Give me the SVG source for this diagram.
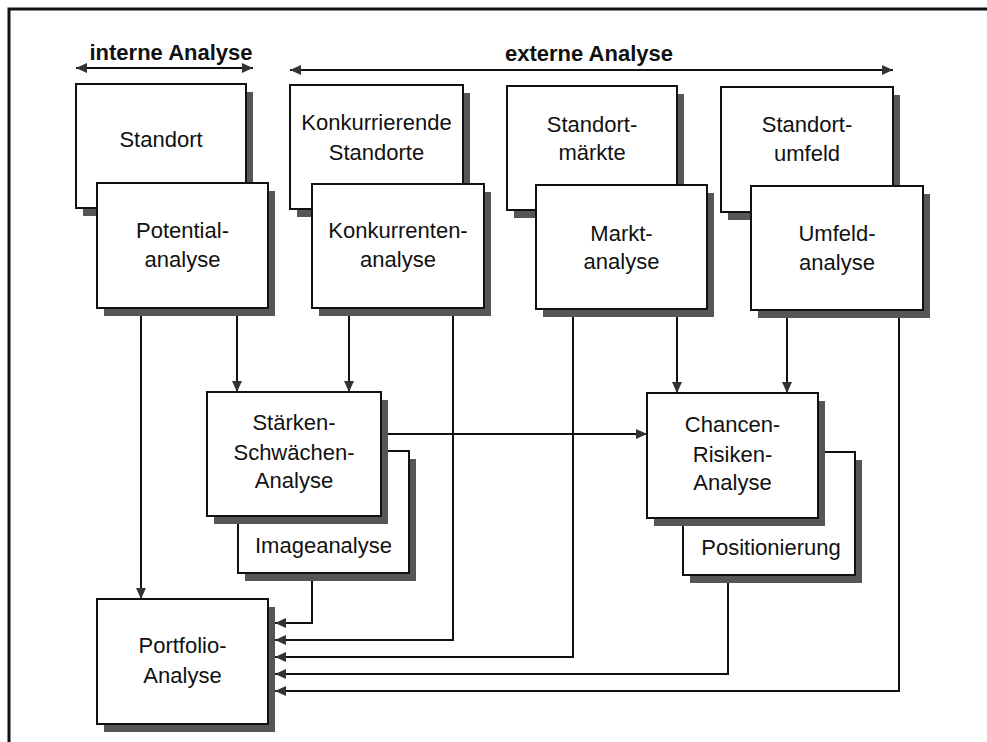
<svg xmlns="http://www.w3.org/2000/svg" width="987" height="742" viewBox="0 0 987 742">
  <style>
    .frame { fill: none; stroke: #111; stroke-width: 3; }
    .shadow { fill: #565656; }
    .box { fill: #fff; stroke: #111; stroke-width: 2; }
    .t { font-family: "Liberation Sans", Arial, sans-serif; font-size: 22px; fill: #111; text-anchor: middle; }
    .h { font-family: "Liberation Sans", Arial, sans-serif; font-size: 22px; font-weight: bold; fill: #111; text-anchor: middle; }
    .con { fill: none; stroke: #111; stroke-width: 2; marker-end: url(#arrow); }
    .span { fill: none; stroke: #111; stroke-width: 2; marker-start: url(#arrow); marker-end: url(#arrow); }
  </style>
  <defs>
    <marker id="arrow" markerUnits="userSpaceOnUse" markerWidth="11" markerHeight="10" refX="11" refY="5" orient="auto-start-reverse">
      <path d="M0,0 L11,5 L0,10 z" fill="#333"/>
    </marker>
  </defs>

  <rect width="987" height="742" fill="#fff"/>
  <path class="frame" d="M9,746 V9 H992"/>

  <!-- headings with their range arrows -->
  <g id="interne">
    <text class="h" x="171" y="60">interne Analyse</text>
    <path class="span" d="M76,68 H253"/>
  </g>
  <g id="externe">
    <text class="h" x="589" y="61">externe Analyse</text>
    <path class="span" d="M290,70 H893"/>
  </g>

  <!-- connectors -->
  <g id="connectors">
    <path class="con" d="M141,308 V599"/>
    <path class="con" d="M237,308 V392"/>
    <path class="con" d="M349,308 V392"/>
    <path class="con" d="M453,308 V640 H275"/>
    <path class="con" d="M573,309 V657 H275"/>
    <path class="con" d="M677,309 V393"/>
    <path class="con" d="M787,310 V393"/>
    <path class="con" d="M899,310 V691 H275"/>
    <path class="con" d="M385,434 H647"/>
    <path class="con" d="M312,573 V623 H275"/>
    <path class="con" d="M728,575 V674 H275"/>
  </g>

  <!-- object boxes (top row) -->
  <g id="standort">
    <rect class="shadow" x="83" y="92" width="170" height="124"/>
    <rect class="box" x="76" y="84" width="170" height="124"/>
    <text class="t" x="161" y="147">Standort</text>
  </g>
  <g id="konkurrierende-standorte">
    <rect class="shadow" x="297" y="93" width="173" height="124"/>
    <rect class="box" x="290" y="85" width="173" height="124"/>
    <text class="t" x="376.5" y="130">Konkurrierende</text>
    <text class="t" x="376.5" y="160">Standorte</text>
  </g>
  <g id="standortmaerkte">
    <rect class="shadow" x="514" y="94" width="170" height="124"/>
    <rect class="box" x="507" y="86" width="170" height="124"/>
    <text class="t" x="592" y="132">Standort-</text>
    <text class="t" x="592" y="160">märkte</text>
  </g>
  <g id="standortumfeld">
    <rect class="shadow" x="728" y="95" width="172" height="125"/>
    <rect class="box" x="721" y="87" width="172" height="125"/>
    <text class="t" x="807" y="132">Standort-</text>
    <text class="t" x="807" y="161">umfeld</text>
  </g>

  <!-- analysis boxes (second row) -->
  <g id="potentialanalyse">
    <rect class="shadow" x="104" y="191" width="171" height="125"/>
    <rect class="box" x="97" y="183" width="171" height="125"/>
    <text class="t" x="182.5" y="238">Potential-</text>
    <text class="t" x="182.5" y="267">analyse</text>
  </g>
  <g id="konkurrentenanalyse">
    <rect class="shadow" x="319" y="192" width="172" height="124"/>
    <rect class="box" x="312" y="184" width="172" height="124"/>
    <text class="t" x="398" y="238">Konkurrenten-</text>
    <text class="t" x="398" y="267">analyse</text>
  </g>
  <g id="marktanalyse">
    <rect class="shadow" x="543" y="193" width="171" height="124"/>
    <rect class="box" x="536" y="185" width="171" height="124"/>
    <text class="t" x="621.5" y="241">Markt-</text>
    <text class="t" x="621.5" y="269">analyse</text>
  </g>
  <g id="umfeldanalyse">
    <rect class="shadow" x="758" y="194" width="172" height="124"/>
    <rect class="box" x="751" y="186" width="172" height="124"/>
    <text class="t" x="837" y="241">Umfeld-</text>
    <text class="t" x="837" y="270">analyse</text>
  </g>

  <!-- synthesis boxes -->
  <g id="imageanalyse">
    <rect class="shadow" x="245" y="459" width="171" height="122"/>
    <rect class="box" x="238" y="451" width="171" height="122"/>
    <text class="t" x="323.5" y="553">Imageanalyse</text>
  </g>
  <g id="staerken-schwaechen">
    <rect class="shadow" x="214" y="400" width="174" height="124"/>
    <rect class="box" x="207" y="392" width="174" height="124"/>
    <text class="t" x="294" y="430">Stärken-</text>
    <text class="t" x="294" y="460">Schwächen-</text>
    <text class="t" x="294" y="488">Analyse</text>
  </g>
  <g id="positionierung">
    <rect class="shadow" x="690" y="460" width="172" height="123"/>
    <rect class="box" x="683" y="452" width="172" height="123"/>
    <text class="t" x="771" y="555">Positionierung</text>
  </g>
  <g id="chancen-risiken">
    <rect class="shadow" x="654" y="401" width="171" height="125"/>
    <rect class="box" x="647" y="393" width="171" height="125"/>
    <text class="t" x="732.5" y="432">Chancen-</text>
    <text class="t" x="732.5" y="462">Risiken-</text>
    <text class="t" x="732.5" y="490">Analyse</text>
  </g>

  <g id="portfolio">
    <rect class="shadow" x="104" y="607" width="171" height="125"/>
    <rect class="box" x="97" y="599" width="171" height="125"/>
    <text class="t" x="182.5" y="653">Portfolio-</text>
    <text class="t" x="182.5" y="683">Analyse</text>
  </g>
</svg>
